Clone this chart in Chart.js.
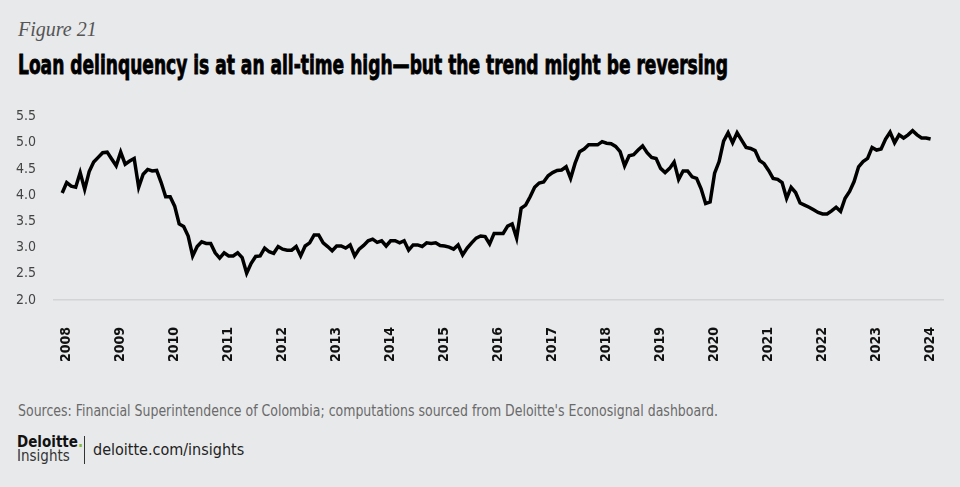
<!DOCTYPE html>
<html>
<head>
<meta charset="utf-8">
<script src="https://cdn.jsdelivr.net/npm/chart.js@4.4.0/dist/chart.umd.min.js"></script>
<style>
  html, body { margin: 0; padding: 0; }
  body { width: 960px; height: 487px; background: #e8e9eb; position: relative; overflow: hidden;
         font-family: "Liberation Sans Narrow", "DejaVu Sans Condensed", "Roboto", sans-serif; }
  .abs { position: absolute; white-space: nowrap; }
  #fig { left: 18px; top: 19px; font: italic 20px/20px "Liberation Serif", "DejaVu Serif", serif; color: #555; }
  #title { left: 18px; top: 52px; font-size: 26px; line-height: 26px; font-weight: 700; color: #000;
           transform-origin: 0 0; -webkit-text-stroke: 0.8px #000; }
  #src { left: 18px; top: 404px; font-size: 15px; line-height: 15px; color: #6a6a6a; transform-origin: 0 0; }
  #brand1 { left: 17px; top: 435px; font-size: 15px; line-height: 15px; font-weight: 700; color: #111; }
  #brand1 span { color: #86bc25; }
  #brand2 { left: 17px; top: 449px; font-size: 15px; line-height: 15px; color: #333; }
  #sep { left: 84px; top: 436px; width: 1px; height: 28px; background: #333; }
  #url { left: 93px; top: 442px; font-size: 16px; line-height: 16px; color: #222; }
  #wrap { position: absolute; left: 0; top: 90px; width: 960px; height: 290px; }
</style>
</head>
<body>
<div id="fig" class="abs">Figure 21</div>
<div id="title" class="abs">Loan delinquency is at an all-time high—but the trend might be reversing</div>
<div id="wrap"><canvas id="c"></canvas></div>
<div id="src" class="abs">Sources: Financial Superintendence of Colombia; computations sourced from Deloitte's Econosignal dashboard.</div>
<div id="brand1" class="abs">Deloitte<span>.</span></div>
<div id="brand2" class="abs">Insights</div>
<div id="sep" class="abs"></div>
<div id="url" class="abs">deloitte.com/insights</div>
<script>
// Monthly series: first observation Dec 2007, last Jan 2024
const startYear = 2007;
const startMonth = 12;
const delinquency = [
  4.04,
  4.24, 4.17, 4.15, 4.43, 4.11, 4.45, 4.63, 4.72, 4.81, 4.82, 4.69, 4.56,
  4.82, 4.59, 4.65, 4.70, 4.15, 4.40, 4.49, 4.46, 4.47, 4.24, 3.97, 3.97,
  3.79, 3.45, 3.40, 3.22, 2.84, 3.02, 3.11, 3.08, 3.08, 2.90, 2.80, 2.90,
  2.84, 2.84, 2.90, 2.81, 2.51, 2.70, 2.83, 2.84, 2.99, 2.92, 2.89, 3.02,
  2.97, 2.95, 2.95, 3.02, 2.84, 3.03, 3.09, 3.24, 3.24, 3.09, 3.02, 2.94,
  3.03, 3.03, 2.99, 3.05, 2.84, 2.97, 3.04, 3.13, 3.16, 3.10, 3.13, 3.03,
  3.13, 3.13, 3.09, 3.13, 2.95, 3.05, 3.05, 3.02, 3.09, 3.08, 3.09, 3.04,
  3.03, 3.01, 2.97, 3.05, 2.86, 2.99, 3.09, 3.18, 3.22, 3.21, 3.07, 3.27,
  3.27, 3.27, 3.41, 3.45, 3.18, 3.75, 3.81, 3.97, 4.15, 4.23, 4.25, 4.37,
  4.43, 4.47, 4.48, 4.54, 4.32, 4.61, 4.83, 4.88, 4.96, 4.96, 4.96, 5.02,
  4.99, 4.98, 4.93, 4.83, 4.56, 4.75, 4.77, 4.86, 4.94, 4.81, 4.72, 4.70,
  4.51, 4.43, 4.51, 4.63, 4.30, 4.46, 4.46, 4.35, 4.32, 4.12, 3.84, 3.87,
  4.42, 4.64, 5.03, 5.19, 5.00, 5.19, 5.05, 4.91, 4.89, 4.85, 4.66, 4.60,
  4.47, 4.32, 4.30, 4.24, 3.94, 4.15, 4.05, 3.85, 3.81, 3.77, 3.72, 3.67,
  3.64, 3.64, 3.70, 3.77, 3.69, 3.94, 4.07, 4.26, 4.54, 4.64, 4.70, 4.91,
  4.86, 4.88, 5.07, 5.20, 5.00, 5.15, 5.09, 5.15, 5.23, 5.15, 5.09, 5.09,
  5.07
];
const yearTicks = [2008, 2009, 2010, 2011, 2012, 2013, 2014, 2015, 2016,
                   2017, 2018, 2019, 2020, 2021, 2022, 2023, 2024];
const yMin = 2.0, yMax = 5.5, yStep = 0.5;

const points = delinquency.map((v, i) => ({ x: startYear + (startMonth - 1 + i) / 12, y: v }));

const narrow = '"Liberation Sans Narrow", "DejaVu Sans Condensed", "Roboto", sans-serif';

new Chart(document.getElementById('c'), {
  type: 'line',
  data: { datasets: [{
    data: points,
    borderColor: '#000',
    borderWidth: 3.5,
    pointRadius: 0,
    tension: 0,
    fill: false
  }]},
  options: {
    responsive: true,
    maintainAspectRatio: false,
    animation: false,
    plugins: { legend: { display: false }, tooltip: { enabled: false } },
    layout: { padding: { top: 26.5, right: 17, left: 0, bottom: 0 } },
    scales: {
      x: {
        type: 'linear',
        min: 2007.765,
        max: 2024.23,
        grid: { display: false, drawTicks: false },
        border: { display: true, color: '#d3d4d6', width: 1.5 },
        afterBuildTicks: (axis) => { axis.ticks = yearTicks.map(v => ({ value: v })); },
        afterFit: (axis) => { axis.height = 80; axis.paddingLeft = 0; axis.paddingRight = 0; },
        ticks: {
          autoSkip: false,
          maxRotation: 90,
          minRotation: 90,
          padding: 27,
          color: '#111',
          font: { family: narrow, size: 14, weight: 'bold' },
          callback: (v) => String(v)
        }
      },
      y: {
        min: yMin,
        max: yMax,
        grid: { display: false, drawTicks: false },
        border: { display: false },
        afterFit: (axis) => { axis.width = 54; axis.paddingTop = 0; axis.paddingBottom = 0; },
        ticks: {
          stepSize: yStep,
          padding: 18,
          color: '#444',
          font: { family: narrow, size: 14 },
          callback: (v) => v.toFixed(1)
        }
      }
    }
  }
});

// fit heavy condensed title and source line to the reference widths
function fitWidth(id, w) {
  const el = document.getElementById(id);
  const cur = el.getBoundingClientRect().width;
  if (cur > 0) el.style.transform = 'scaleX(' + (w / cur) + ')';
}
fitWidth('title', 710);
fitWidth('src', 700);
</script>
</body>
</html>
